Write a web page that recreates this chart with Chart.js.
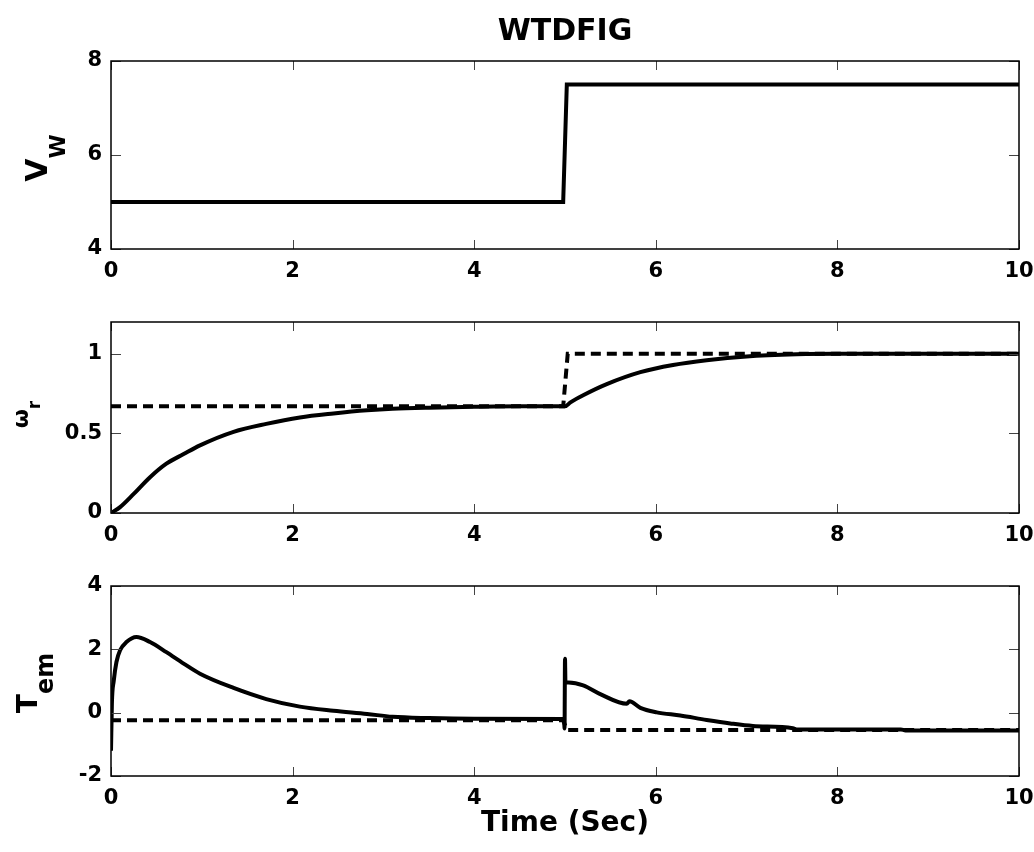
<!DOCTYPE html>
<html>
<head>
<meta charset="utf-8">
<script src="https://cdn.jsdelivr.net/npm/chart.js@4.4.0/dist/chart.umd.min.js"></script>
<style>
  html, body { margin: 0; padding: 0; background: #fff; }
  #wrap { position: relative; width: 1034px; height: 852px; }
  canvas { position: absolute; left: 0; }
</style>
</head>
<body>
<div id="wrap">
  <canvas id="c1" width="1034" height="290" style="top:0px"></canvas>
  <canvas id="c2" width="1034" height="275" style="top:290px"></canvas>
  <canvas id="c3" width="1034" height="287" style="top:565px"></canvas>
</div>
<script>
// ---- data ----
const xTicks = [0, 2, 4, 6, 8, 10]

// wind speed V_W
const vwTime = [0, 4.98, 5.02, 10]
const vwVal = [5, 5, 7.5, 7.5]
const vwTicks = [4, 6, 8]

// rotor speed: reference (dashed) and actual (solid)
const wrRefTime = [0, 4.98, 5.03, 10]
const wrRefVal = [0.67, 0.67, 1.0, 1.0]
const wrTime = [0, 0.1, 0.25, 0.43, 0.61, 0.8, 0.98, 1.35, 1.71, 2.08, 2.45, 2.82, 3.1, 3.5, 4.0, 4.5, 5.0, 5.06, 5.2, 5.46, 5.83, 6.19, 6.56, 7.0, 7.55, 8.0, 10]
const wrVal = [0, 0.037, 0.12, 0.225, 0.31, 0.37, 0.425, 0.51, 0.56, 0.6, 0.625, 0.645, 0.655, 0.662, 0.667, 0.67, 0.67, 0.695, 0.74, 0.81, 0.885, 0.93, 0.96, 0.984, 0.997, 1.0, 1.0]
const wrTicks = [0, 0.5, 1]

// electromagnetic torque: reference (dashed) and actual (solid)
const temRefTime = [0, 4.98, 5.02, 10]
const temRefVal = [-0.24, -0.24, -0.55, -0.55]
const temTime = [0, 0.01, 0.03, 0.06, 0.1, 0.17, 0.28, 0.43, 0.61, 0.8, 0.98, 1.35, 1.71, 2.08, 2.45, 2.82, 3.1, 3.5, 4.0, 4.99, 4.995, 5.0, 5.005, 5.04, 5.2, 5.4, 5.68, 5.71, 5.83, 6.01, 6.27, 6.56, 6.82, 7.07, 7.51, 7.55, 8.7, 8.75, 10]
const temVal = [-1.2, 0.3, 1.0, 1.6, 1.97, 2.23, 2.39, 2.23, 1.91, 1.55, 1.23, 0.78, 0.43, 0.19, 0.06, -0.04, -0.13, -0.17, -0.19, -0.2, -0.5, 1.7, 0.96, 0.95, 0.86, 0.57, 0.28, 0.36, 0.15, 0.01, -0.09, -0.23, -0.34, -0.42, -0.49, -0.53, -0.53, -0.56, -0.56]
const temTicks = [-2, 0, 2, 4]

Chart.defaults.font.family = "'DejaVu Sans', sans-serif"
Chart.defaults.font.weight = 'bold'
Chart.defaults.color = '#000'

const pts = (xs, ys) => xs.map((x, i) => ({ x, y: ys[i] }))

// MATLAB-like box with inward ticks on all four sides, plus the rotated y label with subscript
const boxPlugin = {
  id: 'box',
  afterDraw(chart, args, opts) {
    const { ctx, chartArea: a, scales: { x, y } } = chart
    ctx.save()
    ctx.strokeStyle = '#444'
    ctx.lineWidth = 1
    ctx.beginPath()
    x.ticks.forEach(t => {
      const px = Math.round(x.getPixelForValue(t.value)) + 0.5
      ctx.moveTo(px, a.top); ctx.lineTo(px, a.top + 9)
      ctx.moveTo(px, a.bottom); ctx.lineTo(px, a.bottom - 9)
    })
    y.ticks.forEach(t => {
      const py = Math.round(y.getPixelForValue(t.value)) + 0.5
      ctx.moveTo(a.left, py); ctx.lineTo(a.left + 10, py)
      ctx.moveTo(a.right, py); ctx.lineTo(a.right - 10, py)
    })
    ctx.stroke()
    ctx.strokeStyle = '#000'
    ctx.lineWidth = 1.5
    ctx.strokeRect(a.left, a.top, a.right - a.left, a.bottom - a.top)

    // y label: main text + subscript, rotated
    if (opts.main) {
      ctx.fillStyle = '#000'
      ctx.textBaseline = 'alphabetic'
      ctx.textAlign = 'left'
      const mainFont = `bold ${opts.mainSize}px 'DejaVu Sans', sans-serif`
      const subFont = `bold ${opts.subSize}px 'DejaVu Sans', sans-serif`
      ctx.font = mainFont
      const mw = ctx.measureText(opts.main).width
      ctx.font = subFont
      const sw = ctx.measureText(opts.sub).width
      const cy = (a.top + a.bottom) / 2 + (opts.dy || 0)
      ctx.translate(opts.x, cy)
      ctx.rotate(-Math.PI / 2)
      const start = -(mw + sw) / 2
      ctx.font = mainFont
      ctx.fillText(opts.main, start, 0)
      ctx.font = subFont
      ctx.fillText(opts.sub, start + mw, opts.subShift)
    }
    ctx.restore()
  }
}

function makePlot(id, datasets, yMin, yMax, yTicks, cfg) {
  const ctx = document.getElementById(id).getContext('2d')
  return new Chart(ctx, {
    type: 'line',
    data: { datasets },
    options: {
      responsive: false,
      animation: false,
      devicePixelRatio: 1,
      layout: { padding: { left: 0, right: 15, top: cfg.padTop, bottom: 0 } },
      plugins: {
        legend: { display: false },
        tooltip: { enabled: false },
        title: cfg.title ? { display: true, fullSize: false, text: cfg.title, font: { size: 30, weight: 'bold' }, color: '#000', padding: { top: 14, bottom: 11 } } : { display: false },
        box: cfg.label
      },
      elements: { point: { radius: 0 }, line: { tension: 0, borderColor: '#000', borderWidth: 4 } },
      scales: {
        x: {
          type: 'linear', min: 0, max: 10,
          grid: { display: false, drawTicks: false },
          border: { display: false },
          ticks: { padding: 10, font: { size: 21, weight: 'bold' }, color: '#000', callback: v => String(v) },
          afterBuildTicks: s => { s.ticks = xTicks.map(v => ({ value: v })) },
          afterFit: s => { s.height = cfg.xHeight; s.paddingLeft = 0; s.paddingRight = 0 },
          title: cfg.xTitle ? { display: true, text: cfg.xTitle, font: { size: 28, weight: 'bold' }, color: '#000', padding: { top: 0, bottom: 11 } } : { display: false }
        },
        y: {
          type: 'linear', min: yMin, max: yMax,
          grid: { display: false, drawTicks: false },
          border: { display: false },
          ticks: { padding: 9, font: { size: 21, weight: 'bold' }, color: '#000', callback: v => String(v) },
          afterBuildTicks: s => { s.ticks = yTicks.map(v => ({ value: v })) },
          afterFit: s => { s.width = 111; s.paddingTop = 0; s.paddingBottom = 0 }
        }
      }
    },
    plugins: [boxPlugin]
  })
}

makePlot('c1', [
  { data: pts(vwTime, vwVal) }
], 4, 8, vwTicks, {
  title: 'WTDFIG', padTop: 0, xHeight: 41,
  label: { main: 'V', sub: 'W', mainSize: 30, subSize: 22, subShift: 18, x: 47, dy: 3 }
})

makePlot('c2', [
  { data: pts(wrRefTime, wrRefVal), borderDash: [10, 6] },
  { data: pts(wrTime, wrVal), cubicInterpolationMode: 'monotone' }
], 0, 1.2, wrTicks, {
  padTop: 32, xHeight: 52,
  label: { main: 'ω', sub: 'r', mainSize: 22, subSize: 17, subShift: 12, x: 28, dy: -3 }
})

makePlot('c3', [
  { data: pts(temRefTime, temRefVal), borderDash: [10, 6] },
  { data: pts(temTime, temVal), cubicInterpolationMode: 'monotone' }
], -2, 4, temTicks, {
  padTop: 21, xHeight: 76, xTitle: 'Time (Sec)',
  label: { main: 'T', sub: 'em', mainSize: 28, subSize: 24, subShift: 16, x: 37, dy: 2 }
})
</script>
</body>
</html>
